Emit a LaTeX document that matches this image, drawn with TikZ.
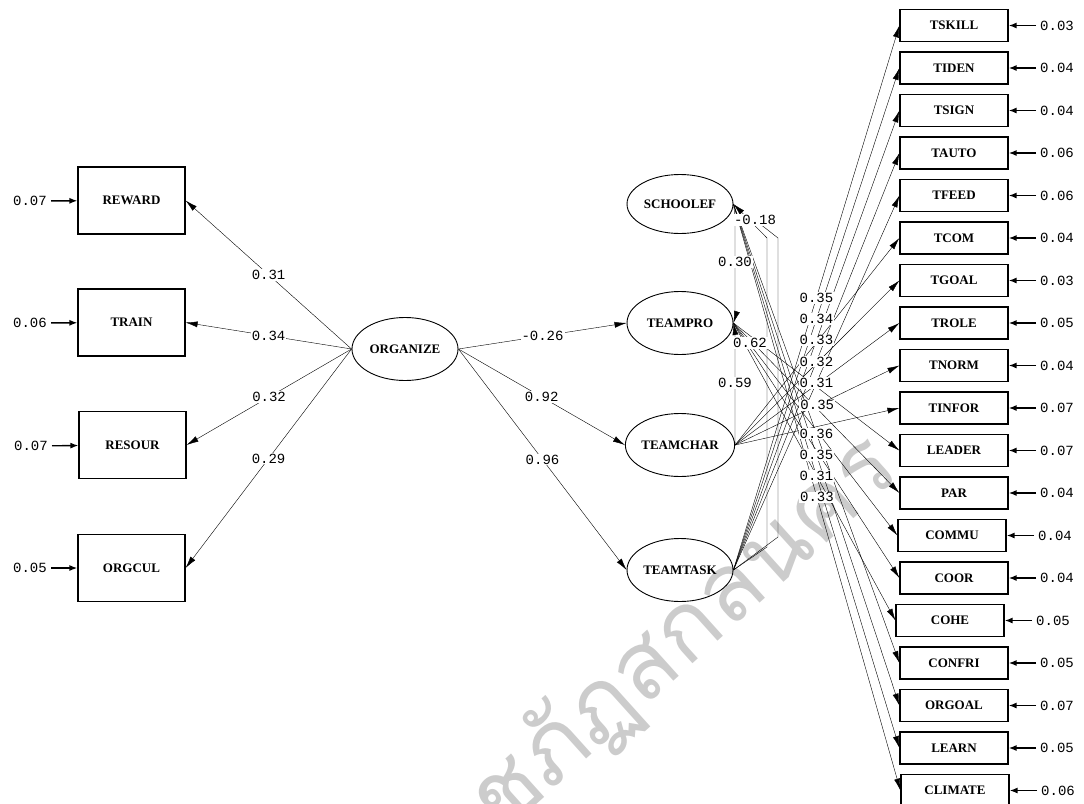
\documentclass[tikz,border=0pt]{standalone}
\usepackage{fontspec}
\setmainfont{Liberation Serif}
\newfontfamily\numfont{Liberation Mono}
\newfontfamily\thaifont[Script=Thai]{Loma}
\usetikzlibrary{shapes.geometric,arrows.meta}
\pgfdeclarelayer{back}
\pgfdeclarelayer{lines}
\pgfsetlayers{back,lines,main}
\newcommand\varfont{\bfseries\fontsize{13}{14}\selectfont}
\newcommand\valfont{\numfont\fontsize{14}{15}\selectfont}

\begin{document}
\begin{tikzpicture}[x=1pt,y=-1pt,line width=0.75pt,
  obs/.style={draw,line width=1.2pt,inner sep=0pt,font=\varfont},
  lobs/.style={obs,minimum width=107pt,minimum height=67pt},
  robs/.style={obs,minimum width=108pt,minimum height=32pt},
  lat/.style={draw,ellipse,line width=0.9pt,minimum width=106pt,minimum height=63pt,inner sep=0pt,font=\varfont},
  val/.style={font=\valfont,inner sep=1pt},
  lbl/.style={val,fill=white},
  path/.style={-{Latex[length=12pt,width=6pt]}},
  err/.style={-{Latex[length=8pt,width=6pt]},line width=1.4pt,shorten <=3pt},
]
\useasboundingbox (0,0) rectangle (1084,803);

% watermark
\begin{pgfonlayer}{back}
\node[rotate=42,text=black!20,font=\thaifont\fontsize{94}{94}\selectfont] (wm) at (646,668) {ราชภัฏสกลนคร};
\end{pgfonlayer}

% exogenous indicators (left)
\node[lobs] (REWARD) at (131.5,200.5) {REWARD};
\node[lobs] (TRAIN)  at (131.5,322.5) {TRAIN};
\node[lobs] (RESOUR) at (132.5,445)   {RESOUR};
\node[lobs] (ORGCUL) at (131.5,568)   {ORGCUL};
\node[val] (eREWARD) at (30,201) {0.07};
\node[val] (eTRAIN)  at (30,323) {0.06};
\node[val] (eRESOUR) at (31,446) {0.07};
\node[val] (eORGCUL) at (30,568) {0.05};

% latent variables
\node[lat] (ORGANIZE) at (405,349) {ORGANIZE};
\node[lat,minimum height=59pt] (SCHOOLEF) at (680,204) {SCHOOLEF};
\node[lat] (TEAMPRO)  at (680,323) {TEAMPRO};
\node[lat] (TEAMCHAR) at (680,445) {TEAMCHAR};
\node[lat] (TEAMTASK) at (680,570) {TEAMTASK};

% endogenous indicators (right) with their error variances
\foreach \n/\v/\dx [count=\k from 0] in {TSKILL/0.03/0, TIDEN/0.04/0, TSIGN/0.04/0,
    TAUTO/0.06/0, TFEED/0.06/0, TCOM/0.04/0, TGOAL/0.03/0, TROLE/0.05/0,
    TNORM/0.04/0, TINFOR/0.07/0, LEADER/0.07/0, PAR/0.04/0, COMMU/0.04/-2,
    COOR/0.04/0, COHE/0.05/-4, CONFRI/0.05/0, ORGOAL/0.07/0, LEARN/0.05/0,
    CLIMATE/0.06/1}{
  \node[robs] (\n) at (954+\dx,25.5+42.5*\k) {\n};
  \node[val] (e\n) at (1057+\dx,25.5+42.5*\k) {\v};
}

% labels of the paths among the endogenous latents
\node[lbl] (m018) at (755,220) {-0.18};
\node[lbl] (m030) at (735,262) {0.30};
\node[lbl] (m062) at (750,343) {0.62};
\node[lbl] (m059) at (735,383) {0.59};

\begin{pgfonlayer}{lines}
% error arrows
\foreach \n in {REWARD,TRAIN,RESOUR,ORGCUL}
  \draw[err] (e\n) -- (\n);
\foreach \n in {TSKILL,TIDEN,TSIGN,TAUTO,TFEED,TCOM,TGOAL,TROLE,TNORM,TINFOR,
    LEADER,PAR,COMMU,COOR,COHE,CONFRI,ORGOAL,LEARN,CLIMATE}
  \draw[err] (e\n) -- (\n);

% ORGANIZE measurement and structural paths
\draw[path] (ORGANIZE.west) -- node[lbl] {0.31} (REWARD.east);
\draw[path] (ORGANIZE.west) -- node[lbl] {0.34} (TRAIN.east);
\draw[path] (ORGANIZE.west) -- node[lbl] {0.32} (RESOUR.east);
\draw[path] (ORGANIZE.west) -- node[lbl] {0.29} (ORGCUL.east);
\draw[path] (ORGANIZE.east) -- node[lbl] {-0.26} (TEAMPRO.west);
\draw[path] (ORGANIZE.east) -- node[lbl] {0.92} (TEAMCHAR.west);
\draw[path] (ORGANIZE.east) -- node[lbl] {0.96} (TEAMTASK.west);

% loadings of the endogenous indicators
\foreach \a/\b in {TEAMTASK/TSKILL, TEAMTASK/TIDEN, TEAMTASK/TSIGN, TEAMTASK/TAUTO,
    TEAMTASK/TFEED, TEAMCHAR/TCOM, TEAMCHAR/TGOAL, TEAMCHAR/TROLE, TEAMCHAR/TNORM,
    TEAMCHAR/TINFOR, TEAMPRO/LEADER, TEAMPRO/PAR, TEAMPRO/COMMU, TEAMPRO/COOR,
    TEAMPRO/COHE, SCHOOLEF/CONFRI, SCHOOLEF/ORGOAL, SCHOOLEF/LEARN, SCHOOLEF/CLIMATE}
  \draw[path] (\a.east) -- (\b.west);

% paths among the endogenous latents
\draw[path] (TEAMTASK.east) -- (767,547) -- (767,238) -- (SCHOOLEF.east);
\draw (TEAMTASK.east) -- (778,537) -- (778,238) -- (m018);
\draw[path] (SCHOOLEF.east) -- (735,216) -- (735,318) -- (TEAMPRO.east);
\draw[path] (TEAMCHAR.east) -- (735,440) -- (735,332) -- (TEAMPRO.east);
\end{pgfonlayer}

% loading values, set over the crossing lines
\foreach \a/\b/\v in {TEAMTASK/TSKILL/0.35, TEAMTASK/TIDEN/0.34, TEAMTASK/TSIGN/0.33,
    TEAMTASK/TAUTO/0.32, TEAMTASK/TFEED/0.31, TEAMCHAR/TNORM/0.35,
    SCHOOLEF/CONFRI/0.36, SCHOOLEF/ORGOAL/0.35, SCHOOLEF/LEARN/0.31,
    SCHOOLEF/CLIMATE/0.33}
  \path (\a.east) -- node[lbl] {\v} (\b.west);
\end{tikzpicture}
\end{document}
